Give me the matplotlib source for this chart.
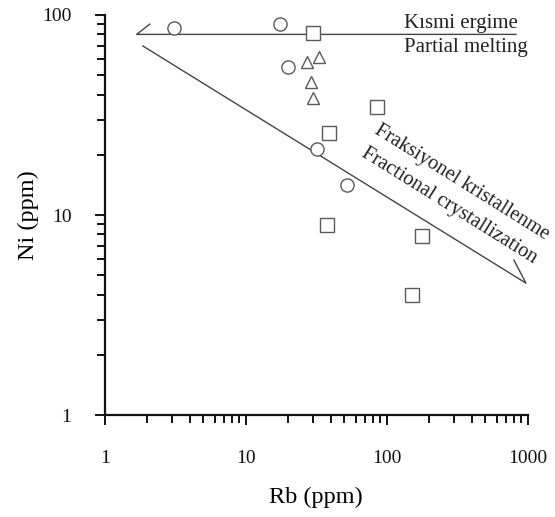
import matplotlib.pyplot as plt
import numpy as np

plt.rcParams['font.family'] = ['Liberation Serif', 'DejaVu Serif']

# Rb - Ni (ppm) sample data, grouped by marker
circle_rb = [3.1, 17.6, 20, 32, 52]
circle_ni = [86, 90, 55, 21.4, 14.1]

square_rb = [29.7, 85, 39, 37.8, 178, 151]
square_ni = [81, 34.7, 25.7, 8.9, 7.9, 4.0]

triangle_rb = [27.3, 33, 29.2, 29.7]
triangle_ni = [58, 62, 46, 38.5]

# trend lines with half arrowheads (tip, then barb)
melt_rb = [824, 1.68, 2.08]
melt_ni = [80, 80, 90]
frac_rb = [1.86, 970, 797]
frac_ni = [70, 4.57, 5.96]

fig = plt.figure(figsize=(5.55, 5.17), dpi=100)
ax = fig.add_axes([0.189, 0.197, 0.762, 0.774])

ax.set_xscale('log')
ax.set_yscale('log')
ax.set_xlim(1, 1000)
ax.set_ylim(1, 100)

line_col = '#444444'
ax.plot(melt_rb, melt_ni, color=line_col, lw=1.0)
ax.plot(frac_rb, frac_ni, color=line_col, lw=1.0)

mk = dict(linestyle='none', markerfacecolor='white', markeredgecolor='#5a5a5a',
          markeredgewidth=1.0, clip_on=False)
ax.plot(circle_rb, circle_ni, marker='o', markersize=9.5, **mk)
ax.plot(square_rb, square_ni, marker='s', markersize=9.5, **mk)
ax.plot(triangle_rb, triangle_ni, marker='^', markersize=8.5, **mk)

txt = dict(fontsize=15, color='#222222')
ax.text(336, 91, 'Kısmi ergime', ha='center', va='center', **txt)
ax.text(362, 69, 'Partial melting', ha='center', va='center', **txt)
ax.text(342, 14.6, 'Fraksiyonel kristallenme', ha='center', va='center',
        rotation=-32, rotation_mode='anchor', fontsize=14.7, color='#222222')
ax.text(276, 11.1, 'Fractional crystallization', ha='center', va='center',
        rotation=-32, rotation_mode='anchor', fontsize=14.7, color='#222222')

ax.spines['top'].set_visible(False)
ax.spines['right'].set_visible(False)
for s in ['left', 'bottom']:
    ax.spines[s].set_linewidth(1.6)
    ax.spines[s].set_color('#111111')

ax.set_xticks([1, 10, 100, 1000])
ax.set_xticklabels(['1', '10', '100', '1000'])
ax.set_yticks([1, 10, 100])
ax.set_yticklabels(['1', '10', '100'])
ax.tick_params(axis='both', which='major', length=7, width=1.4, labelsize=14,
               direction='out', colors='#111111')
ax.tick_params(axis='both', which='minor', length=6, width=1.4, direction='out',
               colors='#111111')
ax.tick_params(axis='x', which='major', pad=18)
ax.tick_params(axis='y', which='major', pad=17)

ax.set_xlabel('Rb (ppm)', fontsize=17.5, labelpad=14)
ax.set_ylabel('Ni (ppm)', fontsize=17.5, labelpad=2)

fig.savefig('out.png', dpi=100)
